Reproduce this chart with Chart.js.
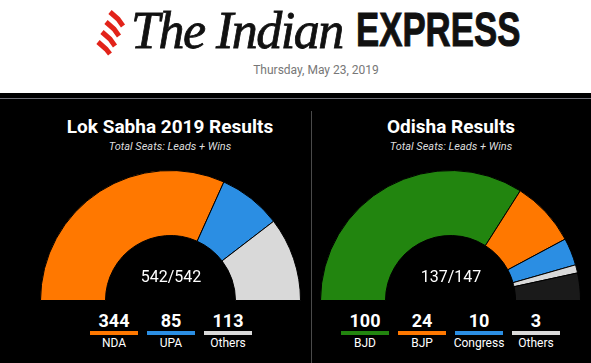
<!DOCTYPE html>
<html>
<head>
<meta charset="utf-8">
<script src="https://cdn.jsdelivr.net/npm/chart.js@4.4.1/dist/chart.umd.min.js"></script>
<style>
    html, body { margin: 0; padding: 0; }
    body { width: 591px; height: 363px; background: #000; position: relative; overflow: hidden; font-family: Roboto, sans-serif; }
    .header { position: absolute; left: 0; top: 0; width: 591px; height: 93px; background: #fff; }
    .rule { position: absolute; left: 0; top: 98px; width: 591px; height: 1px; background: #6f7078; }
    .divider { position: absolute; left: 311px; top: 111px; width: 1px; height: 252px; background: #4a4a4a; }
    .logo-serif { position: absolute; left: 131px; top: 1px; font-family: "Liberation Serif", serif; font-style: italic; font-size: 52px; letter-spacing: -1.5px; color: #111; white-space: nowrap; -webkit-text-stroke: 0.8px #111; }
    .logo-sans { position: absolute; left: 356px; top: 1px; font-family: "Liberation Sans", sans-serif; font-weight: bold; font-size: 49px; color: #111; white-space: nowrap; transform-origin: left top; transform: scaleX(0.71); -webkit-text-stroke: 1px #111; }
    .date { position: absolute; left: 0; top: 63px; width: 632px; text-align: center; font-size: 12px; color: #777; }
    .panel-title { position: absolute; width: 300px; text-align: center; color: #fff; font-weight: bold; font-size: 19px; top: 115px; }
    .panel-sub { position: absolute; width: 300px; text-align: center; color: #ddd; font-style: italic; font-size: 11px; top: 140px; }
    .center-num { position: absolute; width: 300px; text-align: center; color: #fff; font-size: 16px; top: 267px; }
    canvas { position: absolute; }
    .legend { position: absolute; top: 310px; display: flex; }
    .legend .item { width: 48px; margin-right: 9px; text-align: center; color: #fff; }
    .legend .item:last-child { margin-right: 0; }
    .legend .num { font-weight: bold; font-size: 18px; line-height: 21px; }
    .legend .bar { height: 4px; }
    .legend .lab { font-size: 12px; line-height: 16px; margin-left: -10px; margin-right: -10px; }
</style>
</head>
<body>
<div class="header"></div>
<svg style="position:absolute;left:0;top:0" width="140" height="60">
    <g stroke="#e2231a" stroke-width="5" fill="none" stroke-linecap="butt">
        <path d="M110 12 L118 19 L123 26"></path>
        <path d="M106 22 L114 29 L119 36"></path>
        <path d="M102 32 L110 39 L115 46"></path>
        <path d="M98 42 L106 49 L110 54"></path>
    </g>
</svg>
<div class="logo-serif">The Indian</div>
<div class="logo-sans">EXPRESS</div>
<div class="date">Thursday, May 23, 2019</div>
<div class="rule"></div>
<div class="divider"></div>

<div class="panel-title" style="left:20px">Lok Sabha 2019 Results</div>
<div class="panel-sub" style="left:20px">Total Seats: Leads + Wins</div>
<div class="panel-title" style="left:301px">Odisha Results</div>
<div class="panel-sub" style="left:301px">Total Seats: Leads + Wins</div>

<canvas id="lokChart" width="261" height="131" style="left:40px;top:170px;width:261px;height:131px"></canvas>
<canvas id="odishaChart" width="261" height="131" style="left:320px;top:170px;width:261px;height:131px"></canvas>

<div class="center-num" id="lok-center" style="left:21px"></div>
<div class="center-num" id="odisha-center" style="left:301px"></div>

<div class="legend" id="lok-legend" style="left:90px"></div>
<div class="legend" id="odisha-legend" style="left:341px"></div>

<script>
var lokLabels = ['NDA', 'UPA', 'Others'];
var lokSeats = [344, 85, 113];
var lokColors = ['#ff7800', '#2b8ee3', '#d9d9d9'];
var lokTotal = 542;

var odishaLabels = ['BJD', 'BJP', 'Congress', 'Others'];
var odishaSeats = [100, 24, 10, 3];
var odishaColors = ['#22850f', '#ff7800', '#2b8ee3', '#d9d9d9'];
var odishaTotal = 147;
var pendingColor = '#1a1a1a';

function sum(arr) {
    return arr.reduce(function (a, b) { return a + b; }, 0);
}

function makeGauge(canvas, data, colors) {
    return new Chart(canvas, {
        type: 'doughnut',
        data: {
            datasets: [{
                data: data,
                backgroundColor: colors,
                borderColor: '#000',
                borderWidth: 1,
                hoverOffset: 0
            }]
        },
        options: {
            responsive: false,
            animation: false,
            rotation: -90,
            circumference: 180,
            cutout: '50%',
            events: [],
            plugins: { legend: { display: false }, tooltip: { enabled: false } }
        }
    });
}

function buildLegend(el, labels, seats, colors) {
    el.innerHTML = labels.map(function (label, i) {
        return '<div class="item"><div class="num">' + seats[i] + '</div><div class="bar" style="background:' + colors[i] + '"></div><div class="lab">' + label + '</div></div>';
    }).join('');
}

var lokDone = sum(lokSeats);
var odishaDone = sum(odishaSeats);

makeGauge(document.getElementById('lokChart'), lokDone < lokTotal ? lokSeats.concat([lokTotal - lokDone]) : lokSeats, lokColors.concat([pendingColor]));
makeGauge(document.getElementById('odishaChart'), odishaSeats.concat([odishaTotal - odishaDone]), odishaColors.concat([pendingColor]));

document.getElementById('lok-center').textContent = lokDone + '/' + lokTotal;
document.getElementById('odisha-center').textContent = odishaDone + '/' + odishaTotal;

buildLegend(document.getElementById('lok-legend'), lokLabels, lokSeats, lokColors);
buildLegend(document.getElementById('odisha-legend'), odishaLabels, odishaSeats, odishaColors);
</script>
</body>
</html>
